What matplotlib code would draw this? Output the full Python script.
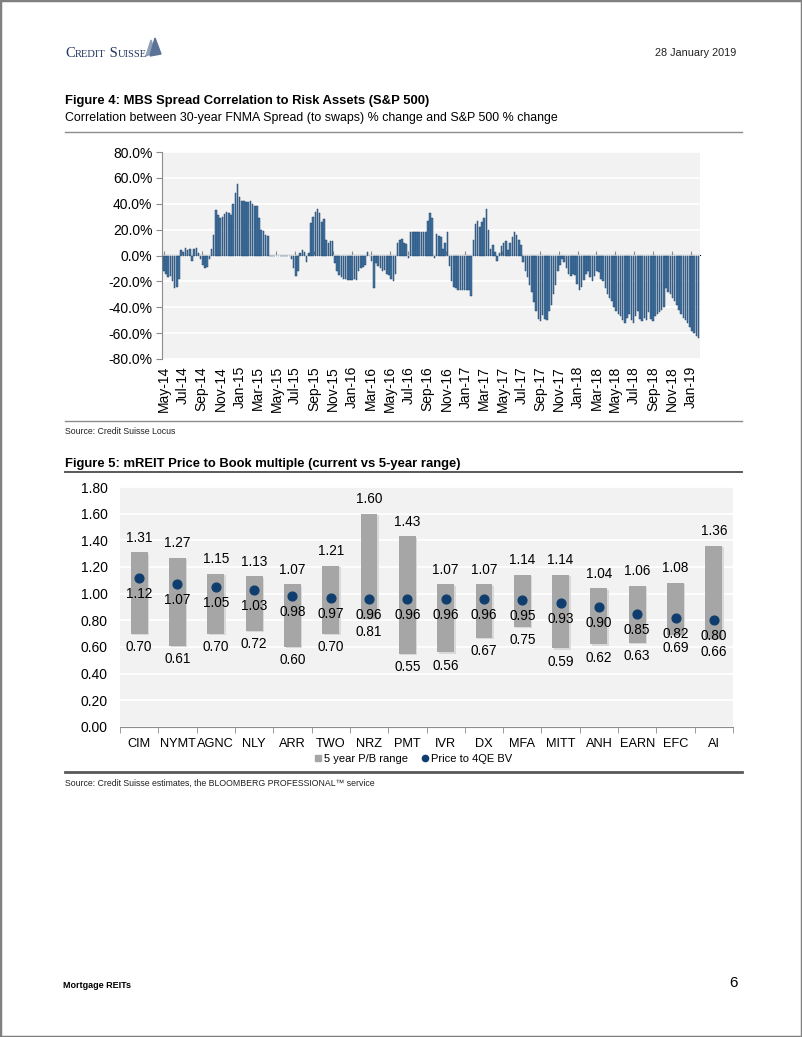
import matplotlib
matplotlib.use('Agg')
import matplotlib.pyplot as plt
import matplotlib.dates as mdates
from matplotlib.ticker import (PercentFormatter, FormatStrFormatter, MultipleLocator,
                               FixedLocator, NullFormatter)
from matplotlib import font_manager
from matplotlib.lines import Line2D
from matplotlib.patches import Rectangle, Polygon
import pandas as pd
import numpy as np

# ---------------- data ----------------
corr_start = '2014-05-02'          # weekly observations
corr_weekly_pct = [
    -12, -14, -17, -16, -20, -25, -24, -18,
    4, 3, 6, 4, 5, -4, 5, 6, 2,
    -3, -7, -10, -9, -3,
    5, 16, 35, 31, 29, 30, 32, 34, 33, 31, 40, 48, 55, 45, 42, 42, 41, 41, 42, 40,
    38, 38, 29, 20, 19, 16, 15,
    0, 0, 0, 0, 0, 0, 0, 0, 0, 0,
    -3, -10, -16, -12,
    2, 4, 3, -5, 2,
    25, 30, 34, 36, 33, 26, 28, 12, 10, 11, 11,
    -6, -12, -15, -17, -18, -18, -19, -19, -19, -18, -19, -12, -10, -9, -7,
    3, 0,
    -4, -25, -6, -8, -10, -12, -11, -14, -15, -18, -20, -14,
    10, 12, 13, 10, 9,
    -2,
    18, 18, 18, 18, 18, 18, 18,
    18, 27, 33, 29, -2, 17, 15, 14, 5, 10, 18,
    -8, -20, -24, -25, -27, -27, -27, -27, -27, -27, -31,
    12, 24, 27, 22, 26, 29, 36, 20,
    5, 8, 3, -4, 2, 7, 10, 11, 4, 10, 14, 18, 16, 12, 8,
    -5, -12, -17, -23, -28, -36, -43, -49, -51, -46, -49, -50, -43, -38, -30, -23, -12, -7,
    -3, -5, -10, -14, -16, -14, -15, -22, -27, -24, -19, -14, -12, -17, -20, -16, -12, -13,
    -18, -20, -25, -30, -33, -35, -40, -43, -45,
    -47, -50, -52, -48, -45, -50, -52, -47, -43, -49, -51, -48, -50, -44, -49, -51, -47, -45,
    -44, -42, -40,
    -25, -28, -30, -33, -35,
    -38, -42, -45, -48, -50, -52, -55, -58, -60, -62, -64,
]

tickers = ['CIM', 'NYMT', 'AGNC', 'NLY', 'ARR', 'TWO', 'NRZ', 'PMT',
           'IVR', 'DX', 'MFA', 'MITT', 'ANH', 'EARN', 'EFC', 'AI']
pb_high = [1.31, 1.27, 1.15, 1.13, 1.07, 1.21, 1.60, 1.43,
           1.07, 1.07, 1.14, 1.14, 1.04, 1.06, 1.08, 1.36]
pb_low = [0.70, 0.61, 0.70, 0.72, 0.60, 0.70, 0.81, 0.55,
          0.56, 0.67, 0.75, 0.59, 0.62, 0.63, 0.69, 0.66]
pb_current = [1.12, 1.07, 1.05, 1.03, 0.98, 0.97, 0.96, 0.96,
              0.96, 0.96, 0.95, 0.93, 0.90, 0.85, 0.82, 0.80]

# ---------------- fonts ----------------
def has_font(name):
    try:
        font_manager.findfont(name, fallback_to_default=False)
        return True
    except Exception:
        return False

SANS = 'Liberation Sans'
NARROW_OK = has_font('Liberation Sans Narrow')
NARROW = 'Liberation Sans Narrow' if NARROW_OK else SANS

def nsz(regular_size, narrow_size):
    return narrow_size if NARROW_OK else regular_size

plt.rcParams['font.family'] = [SANS, 'DejaVu Sans']
plt.rcParams['axes.unicode_minus'] = False

W, H = 802, 1037
fig = plt.figure(figsize=(W / 100, H / 100), dpi=100)
fig.patch.set_facecolor('white')

def fx(px):
    return px / W

def fy(py):
    return 1 - py / H

# page border
fig.patches.append(Rectangle((0, 0), 1, 1, transform=fig.transFigure, fill=False,
                             edgecolor='#808080', lw=2.5))

# ---------------- header ----------------
renderer = fig.canvas.get_renderer()
logo_parts = [('C', 10.5), ('REDIT', 7.6), (' S', 10.5), ('UISSE', 7.6)]
cx = 65
for txt, sz in logo_parts:
    t = fig.text(fx(cx), fy(57), txt, fontsize=sz, family='Liberation Serif',
                 color='#22375f', va='baseline', ha='left')
    bb = t.get_window_extent(renderer=renderer)
    cx += bb.width
fig.patches.append(Polygon([[fx(146), fy(56)], [fx(151), fy(40)], [fx(155), fy(52)]],
                           closed=True, transform=fig.transFigure, color='#8ea0bb'))
fig.patches.append(Polygon([[fx(150), fy(56)], [fx(155), fy(38)], [fx(161), fy(54)]],
                           closed=True, transform=fig.transFigure, color='#5b7397'))

fig.text(fx(736), fy(53), '28 January 2019', fontsize=nsz(7.8, 9),
         family=NARROW, ha='right', va='center', color='#222222')

fig.text(fx(65), fy(101), 'Figure 4: MBS Spread Correlation to Risk Assets (S&P 500)',
         fontsize=nsz(9.4, 11), family=NARROW, weight='bold', ha='left', va='center')
fig.text(fx(65), fy(118), 'Correlation between 30-year FNMA Spread (to swaps) % change and S&P 500 % change',
         fontsize=nsz(8.95, 10.5), family=NARROW, ha='left', va='center')
fig.add_artist(Line2D([fx(65), fx(742)], [fy(132), fy(132)], color='#8c8c8c', lw=1.0))

# ---------------- chart 1 ----------------
ax1 = fig.add_axes([fx(162), fy(359), fx(700) - fx(162), fy(152) - fy(359)])
dates = pd.date_range(corr_start, periods=len(corr_weekly_pct), freq='7D')
vals = np.array(corr_weekly_pct) / 100.0
ax1.set_facecolor('#f2f2f2')
ax1.bar(dates, vals, width=5, color='#4474a3', edgecolor='#23476e', linewidth=0.35, zorder=3)
ax1.set_ylim(-0.8, 0.8)
ax1.set_xlim(pd.Timestamp('2014-04-26'), pd.Timestamp('2019-01-30'))
ax1.yaxis.set_major_locator(MultipleLocator(0.2))
ax1.yaxis.set_major_formatter(PercentFormatter(1.0, decimals=1))
ax1.grid(axis='y', color='white', lw=1.3, zorder=1)
ax1.set_axisbelow(True)
for s in ['top', 'right', 'bottom']:
    ax1.spines[s].set_visible(False)
ax1.spines['left'].set_color('#8c8c8c')
ax1.tick_params(axis='y', length=4, color='#8c8c8c', labelsize=10, pad=3)
ax1.xaxis.set_major_locator(mdates.MonthLocator(bymonth=[1, 3, 5, 7, 9, 11]))
ax1.xaxis.set_major_formatter(mdates.DateFormatter('%b-%y'))
ax1.tick_params(axis='x', length=0, labelsize=10, labelrotation=90, pad=5)
sec = ax1.secondary_xaxis(0.5)
sec.xaxis.set_major_locator(mdates.MonthLocator(bymonth=[1, 3, 5, 7, 9, 11]))
sec.xaxis.set_major_formatter(NullFormatter())
sec.tick_params(axis='x', length=3, color='#8c8c8c', labelbottom=False, labeltop=False)
sec.spines['bottom'].set_color('#8c8c8c')
sec.spines['bottom'].set_linewidth(1.0)

fig.add_artist(Line2D([fx(65), fx(742)], [fy(421), fy(421)], color='#8c8c8c', lw=1.0))
fig.text(fx(65), fy(431), 'Source: Credit Suisse Locus', fontsize=6.3, family=SANS,
         ha='left', va='center', color='#222222')

# ---------------- chart 2 ----------------
fig.text(fx(65), fy(464), 'Figure 5: mREIT Price to Book multiple (current vs 5-year range)',
         fontsize=nsz(9.4, 11), family=NARROW, weight='bold', ha='left', va='center')
fig.add_artist(Line2D([fx(65), fx(742)], [fy(472), fy(472)], color='#595959', lw=1.4))

ax2 = fig.add_axes([fx(120), fy(727), fx(733) - fx(120), fy(487) - fy(727)])
ax2.set_facecolor('#f2f2f2')
xpos = np.arange(len(tickers))
hi = np.array(pb_high)
lo = np.array(pb_low)
cur = np.array(pb_current)
ax2.bar(xpos + 0.04, hi - lo, bottom=lo - 0.01, width=0.44, color='#d9d9d9', zorder=2)
ax2.bar(xpos, hi - lo, bottom=lo, width=0.44, color='#a6a6a6', zorder=3)
ax2.scatter(xpos, cur, s=40, color='#0f3e6e', zorder=4)
ax2.set_xlim(-0.5, len(tickers) - 0.5)
ax2.set_ylim(0, 1.8)
ax2.yaxis.set_major_locator(MultipleLocator(0.2))
ax2.yaxis.set_major_formatter(FormatStrFormatter('%.2f'))
ax2.grid(axis='y', color='white', lw=1.3, zorder=1)
ax2.set_axisbelow(True)
for s in ['top', 'right', 'left']:
    ax2.spines[s].set_visible(False)
ax2.spines['bottom'].set_color('#8c8c8c')
ax2.tick_params(axis='y', length=0, labelsize=10, pad=9)
ax2.set_xticks(xpos)
ax2.set_xticklabels(tickers)
ax2.xaxis.set_minor_locator(FixedLocator(np.arange(len(tickers) + 1) - 0.5))
ax2.tick_params(axis='x', which='major', length=0, labelsize=9.2, pad=8)
ax2.tick_params(axis='x', which='minor', length=4, color='#8c8c8c')

for i in range(len(tickers)):
    ax2.annotate(f'{hi[i]:.2f}', (xpos[i], hi[i]), xytext=(0, 10.5), textcoords='offset points',
                 ha='center', va='center', fontsize=9.8, zorder=5)
    ax2.annotate(f'{lo[i]:.2f}', (xpos[i], lo[i]), xytext=(0, -9.5), textcoords='offset points',
                 ha='center', va='center', fontsize=9.8, zorder=5)
    ax2.annotate(f'{cur[i]:.2f}', (xpos[i], cur[i]), xytext=(0, -11.5), textcoords='offset points',
                 ha='center', va='center', fontsize=9.8, zorder=5)

handles = [Line2D([], [], marker='s', color='#a6a6a6', ls='none', markersize=4.5),
           Line2D([], [], marker='o', color='#0f3e6e', ls='none', markersize=4.5)]
fig.legend(handles, ['5 year P/B range', 'Price to 4QE BV'], loc='center',
           bbox_to_anchor=(fx(413), fy(759)), ncol=2, frameon=False, fontsize=8,
           handlelength=0.7, handletextpad=0.2, columnspacing=1.2)

fig.add_artist(Line2D([fx(65), fx(742)], [fy(772), fy(772)], color='#595959', lw=2.0))
fig.text(fx(65), fy(783), 'Source: Credit Suisse estimates, the BLOOMBERG PROFESSIONAL\u2122 service',
         fontsize=6.3, family=SANS, ha='left', va='center', color='#222222')

# ---------------- footer ----------------
fig.text(fx(63), fy(985), 'Mortgage REITs', fontsize=nsz(6.5, 7.5), family=NARROW,
         weight='bold', ha='left', va='center')
fig.text(fx(738), fy(983), '6', fontsize=11, family=SANS, ha='right', va='center')

fig.savefig('out.png', dpi=100, facecolor='white')
